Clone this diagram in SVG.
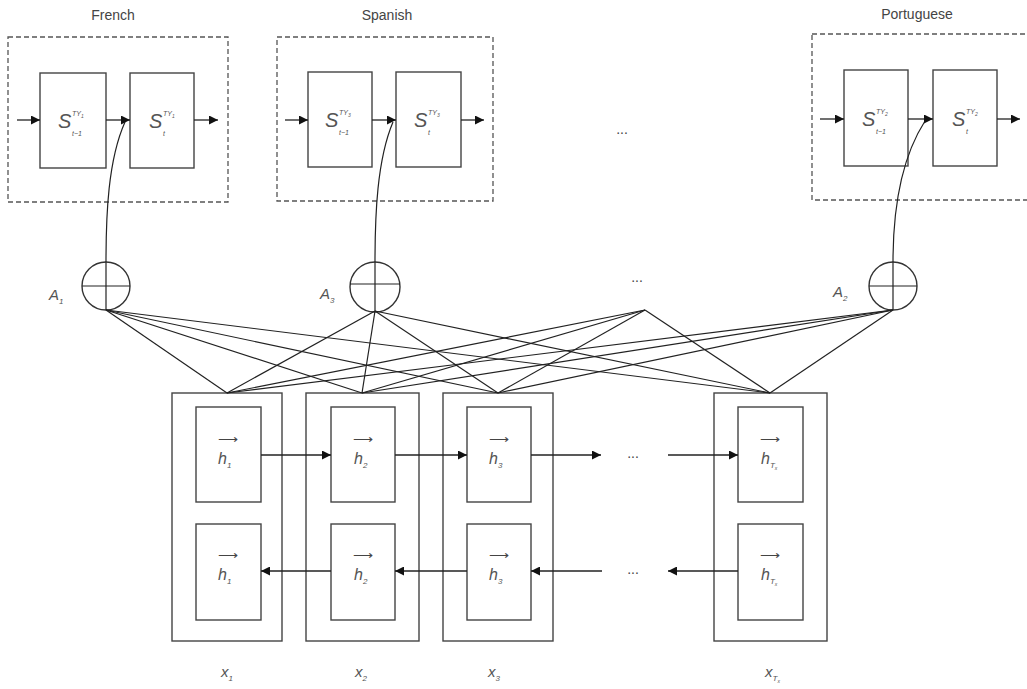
<svg xmlns="http://www.w3.org/2000/svg" width="1027" height="689" viewBox="0 0 1027 689">
<defs>
<marker id="ah" viewBox="0 0 10 10" refX="10" refY="5" markerWidth="9" markerHeight="9" markerUnits="userSpaceOnUse" orient="auto">
<path d="M0,0 L10,5 L0,10 z" fill="#111"/>
</marker>
</defs>
<style>
.dash{fill:none;stroke:#555;stroke-width:1.3;stroke-dasharray:5,3}
.box{fill:none;stroke:#444;stroke-width:1.4}
.ln{fill:none;stroke:#222;stroke-width:1.2}
.arr{fill:none;stroke:#222;stroke-width:1.3;marker-end:url(#ah)}
.lbl{font-family:"Liberation Sans",Arial,sans-serif;font-size:14px;fill:#444}
.mi{font-family:"Liberation Sans",Arial,sans-serif;font-style:italic;fill:#555}
.s{font-family:"Liberation Sans",Arial,sans-serif;font-style:italic;fill:#555;font-size:20px}
.sup{font-family:"Liberation Sans",Arial,sans-serif;font-style:italic;fill:#555;font-size:7px}
.circ{fill:#fff;stroke:#333;stroke-width:1.4}
</style>
<rect width="1027" height="689" fill="#fff"/>

<g id="french">
<text class="lbl" x="113" y="20" text-anchor="middle">French</text>
<rect class="dash" x="8" y="37" width="220" height="165"/>
<rect class="box" x="40" y="73" width="66" height="95"/>
<rect class="box" x="130" y="73" width="64" height="95"/>
<text class="s" x="58" y="128">S</text>
<text class="sup" x="72" y="116">TY<tspan font-size="5" dy="2">1</tspan></text>
<text class="sup" x="72" y="136">t−1</text>
<text class="s" x="149" y="128">S</text>
<text class="sup" x="163" y="116">TY<tspan font-size="5" dy="2">1</tspan></text>
<text class="sup" x="163" y="136">t</text>
</g>

<g id="spanish">
<text class="lbl" x="387" y="20" text-anchor="middle">Spanish</text>
<rect class="dash" x="277" y="37" width="216" height="164"/>
<rect class="box" x="308" y="72" width="64" height="95"/>
<rect class="box" x="396" y="72" width="65" height="95"/>
<text class="s" x="325" y="127">S</text>
<text class="sup" x="339" y="115">TY<tspan font-size="5" dy="2">3</tspan></text>
<text class="sup" x="339" y="135">t−1</text>
<text class="s" x="414" y="127">S</text>
<text class="sup" x="428" y="115">TY<tspan font-size="5" dy="2">3</tspan></text>
<text class="sup" x="428" y="135">t</text>
</g>

<g id="dots-top">
<text class="lbl" x="622" y="134" text-anchor="middle" font-size="12">...</text>
</g>

<g id="portuguese">
<text class="lbl" x="917" y="19" text-anchor="middle">Portuguese</text>
<rect class="dash" x="812" y="34" width="225" height="166"/>
<rect class="box" x="844" y="70" width="64" height="96"/>
<rect class="box" x="933" y="70" width="64" height="96"/>
<text class="s" x="862" y="126">S</text>
<text class="sup" x="876" y="114">TY<tspan font-size="5" dy="2">2</tspan></text>
<text class="sup" x="876" y="134">t−1</text>
<text class="s" x="952" y="126">S</text>
<text class="sup" x="966" y="114">TY<tspan font-size="5" dy="2">2</tspan></text>
<text class="sup" x="966" y="134">t</text>
</g>

<g id="A1">
<circle class="circ" cx="106" cy="286" r="24"/>
<line class="ln" x1="82" y1="286" x2="130" y2="286"/>
<line class="ln" x1="106" y1="262" x2="106" y2="310"/>
<text class="mi" x="49" y="300" font-size="15">A<tspan font-size="8" dy="4">1</tspan></text>
</g>

<g id="A3">
<circle class="circ" cx="375" cy="287" r="25"/>
<line class="ln" x1="350" y1="284" x2="400" y2="284"/>
<line class="ln" x1="375" y1="262" x2="375" y2="311"/>
<text class="mi" x="320" y="299" font-size="15">A<tspan font-size="8" dy="4">3</tspan></text>
</g>

<g id="dots-attn">
<text class="lbl" x="637" y="282" text-anchor="middle" font-size="12">...</text>
</g>

<g id="A2">
<circle class="circ" cx="893" cy="286" r="24"/>
<line class="ln" x1="869" y1="286" x2="917" y2="286"/>
<line class="ln" x1="893" y1="262" x2="893" y2="310"/>
<text class="mi" x="833" y="297" font-size="15">A<tspan font-size="8" dy="4">2</tspan></text>
</g>

<g id="enc1">
<rect class="box" x="172" y="393" width="110" height="248"/>
<rect class="box" x="196" y="407" width="65" height="95"/>
<rect class="box" x="196" y="524" width="65" height="96"/>
<text class="mi" x="218" y="464" font-size="16">h<tspan font-size="8" dy="4">1</tspan></text>
<text class="mi" x="218" y="580" font-size="16">h<tspan font-size="8" dy="4">1</tspan></text>
<text class="lbl" x="228" y="444" text-anchor="middle" font-size="10">⟶</text>
<text class="lbl" x="228" y="560" text-anchor="middle" font-size="10">⟶</text>
<text class="mi" x="221" y="677" font-size="15">x<tspan font-size="8" dy="4">1</tspan></text>
</g>

<g id="enc2">
<rect class="box" x="306" y="393" width="113" height="248"/>
<rect class="box" x="331" y="407" width="64" height="95"/>
<rect class="box" x="331" y="524" width="64" height="96"/>
<text class="mi" x="354" y="464" font-size="16">h<tspan font-size="8" dy="4">2</tspan></text>
<text class="mi" x="354" y="580" font-size="16">h<tspan font-size="8" dy="4">2</tspan></text>
<text class="lbl" x="363" y="444" text-anchor="middle" font-size="10">⟶</text>
<text class="lbl" x="363" y="560" text-anchor="middle" font-size="10">⟶</text>
<text class="mi" x="355" y="677" font-size="15">x<tspan font-size="8" dy="4">2</tspan></text>
</g>

<g id="enc3">
<rect class="box" x="443" y="393" width="110" height="248"/>
<rect class="box" x="467" y="407" width="64" height="95"/>
<rect class="box" x="467" y="524" width="64" height="96"/>
<text class="mi" x="489" y="464" font-size="16">h<tspan font-size="8" dy="4">3</tspan></text>
<text class="mi" x="489" y="580" font-size="16">h<tspan font-size="8" dy="4">3</tspan></text>
<text class="lbl" x="499" y="444" text-anchor="middle" font-size="10">⟶</text>
<text class="lbl" x="499" y="560" text-anchor="middle" font-size="10">⟶</text>
<text class="mi" x="488" y="677" font-size="15">x<tspan font-size="8" dy="4">3</tspan></text>
</g>

<g id="dots-enc">
<text class="lbl" x="633" y="458" text-anchor="middle" font-size="12">...</text>
<text class="lbl" x="633" y="574" text-anchor="middle" font-size="12">...</text>
</g>

<g id="encT">
<rect class="box" x="714" y="393" width="113" height="248"/>
<rect class="box" x="738" y="407" width="65" height="95"/>
<rect class="box" x="738" y="524" width="65" height="96"/>
<text class="mi" x="761" y="464" font-size="16">h<tspan font-size="8" dy="4">T</tspan><tspan font-size="5" dy="2">x</tspan></text>
<text class="mi" x="761" y="580" font-size="16">h<tspan font-size="8" dy="4">T</tspan><tspan font-size="5" dy="2">x</tspan></text>
<text class="lbl" x="770" y="444" text-anchor="middle" font-size="10">⟶</text>
<text class="lbl" x="770" y="560" text-anchor="middle" font-size="10">⟶</text>
<text class="mi" x="765" y="677" font-size="15">x<tspan font-size="8" dy="4">T</tspan><tspan font-size="5" dy="2">x</tspan></text>
</g>

<g id="connectors">
<g class="ln">
<line x1="106" y1="310" x2="227" y2="393"/>
<line x1="106" y1="310" x2="362" y2="393"/>
<line x1="106" y1="310" x2="498" y2="393"/>
<line x1="106" y1="310" x2="770" y2="393"/>
<line x1="375" y1="311" x2="227" y2="393"/>
<line x1="375" y1="311" x2="362" y2="393"/>
<line x1="375" y1="311" x2="498" y2="393"/>
<line x1="375" y1="311" x2="770" y2="393"/>
<line x1="645" y1="310" x2="227" y2="393"/>
<line x1="645" y1="310" x2="362" y2="393"/>
<line x1="645" y1="310" x2="498" y2="393"/>
<line x1="645" y1="310" x2="770" y2="393"/>
<line x1="893" y1="310" x2="227" y2="393"/>
<line x1="893" y1="310" x2="362" y2="393"/>
<line x1="893" y1="310" x2="498" y2="393"/>
<line x1="893" y1="310" x2="770" y2="393"/>
</g>
<path class="ln" d="M106,262 C106,215 108,160 125,122"/>
<path class="ln" d="M375,262 C375,215 377,160 393,122"/>
<path class="ln" d="M893,262 C893,215 900,160 925,121"/>
<line class="arr" x1="17" y1="120" x2="40" y2="120"/>
<line class="arr" x1="106" y1="120" x2="130" y2="120"/>
<line class="arr" x1="194" y1="120" x2="218" y2="120"/>
<line class="arr" x1="285" y1="120" x2="308" y2="120"/>
<line class="arr" x1="372" y1="120" x2="396" y2="120"/>
<line class="arr" x1="461" y1="120" x2="484" y2="120"/>
<line class="arr" x1="820" y1="119" x2="844" y2="119"/>
<line class="arr" x1="908" y1="119" x2="933" y2="119"/>
<line class="arr" x1="997" y1="119" x2="1020" y2="119"/>
<line class="arr" x1="261" y1="455" x2="331" y2="455"/>
<line class="arr" x1="395" y1="455" x2="467" y2="455"/>
<line class="arr" x1="531" y1="455" x2="601" y2="455"/>
<line class="arr" x1="668" y1="455" x2="738" y2="455"/>
<line class="arr" x1="331" y1="571" x2="261" y2="571"/>
<line class="arr" x1="467" y1="571" x2="395" y2="571"/>
<line class="arr" x1="602" y1="571" x2="531" y2="571"/>
<line class="arr" x1="738" y1="571" x2="668" y2="571"/>
</g>
</svg>
